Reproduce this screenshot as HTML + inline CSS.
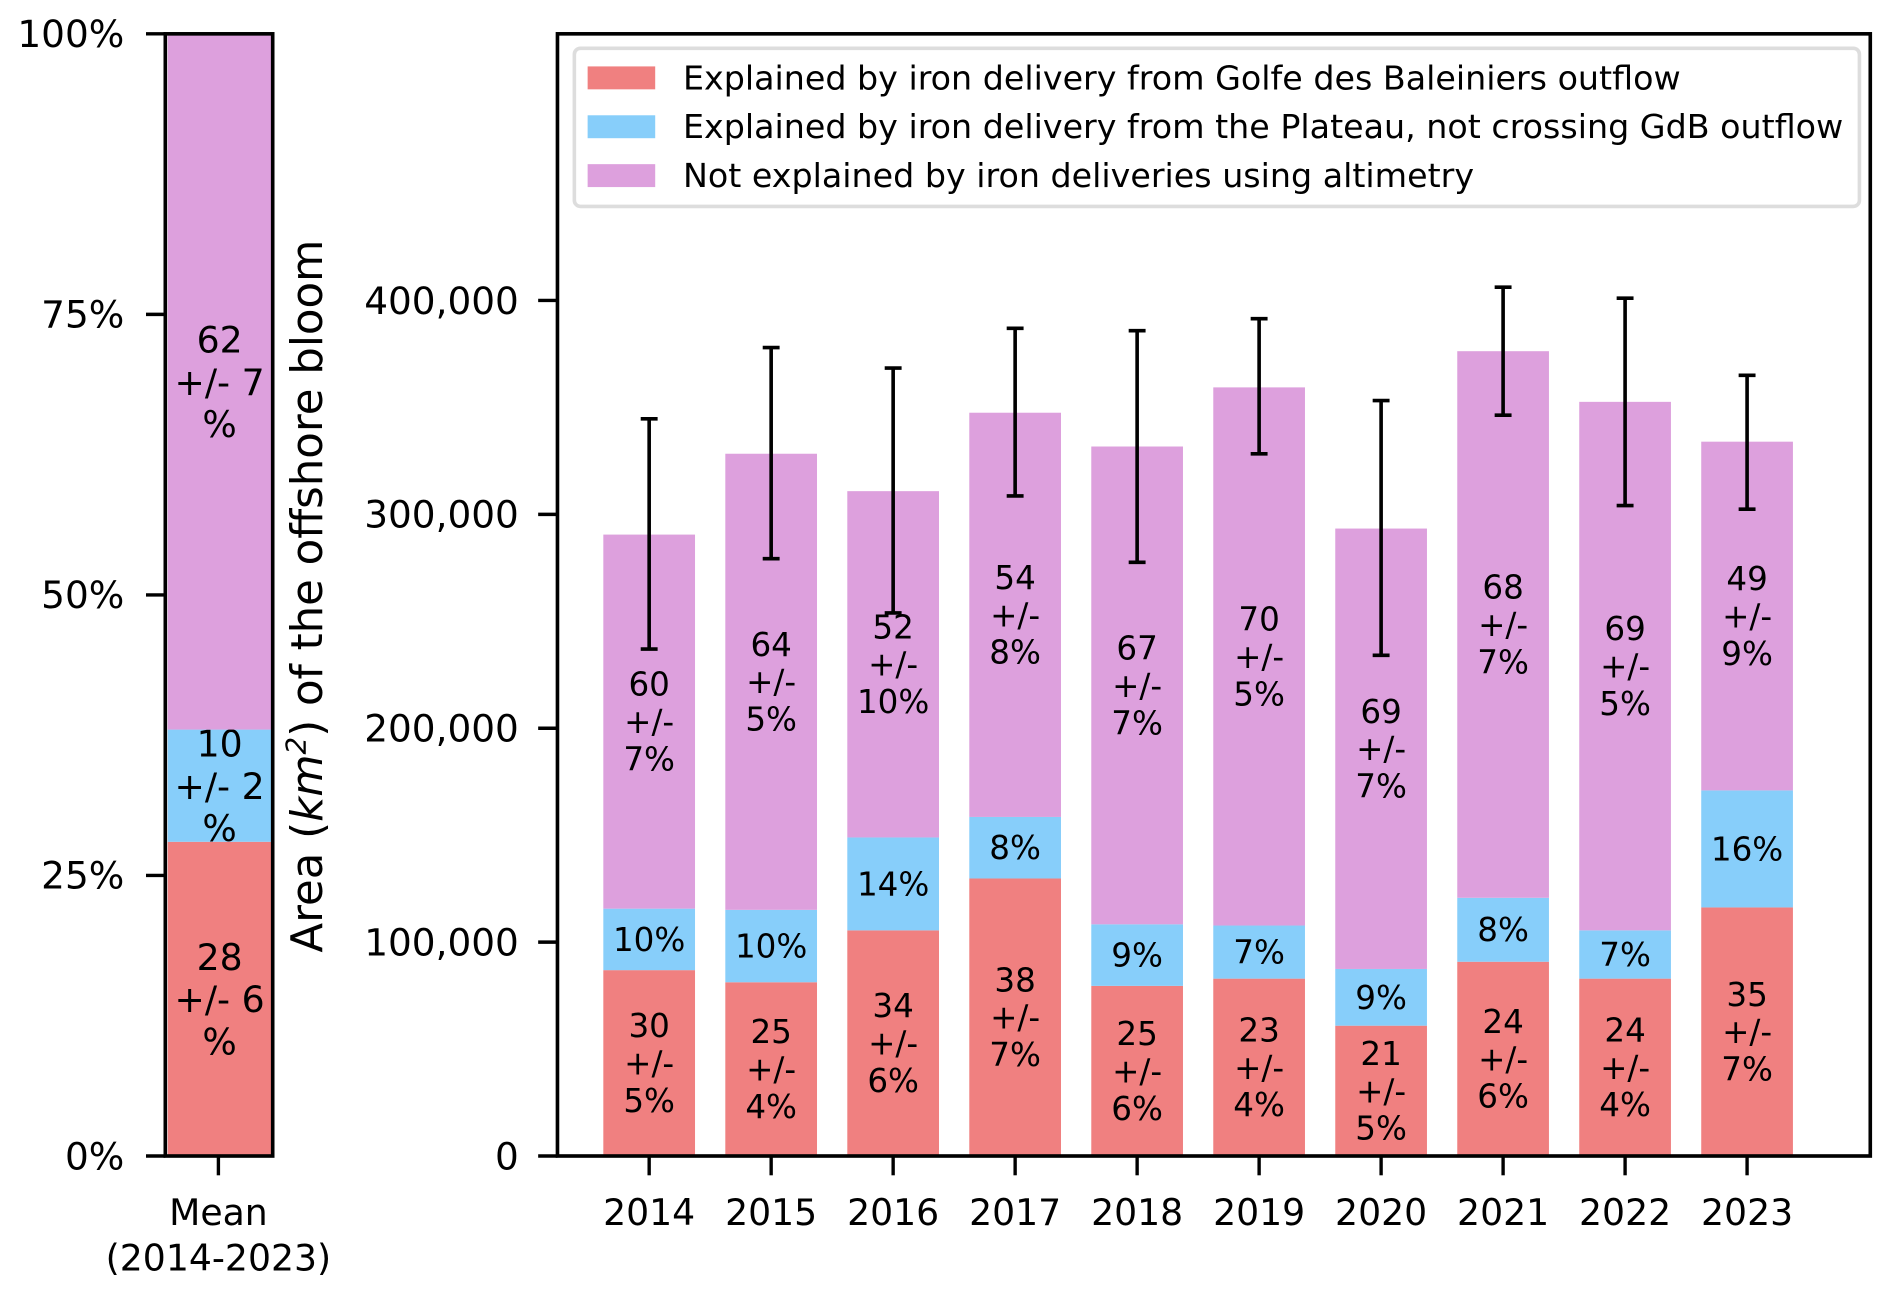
<!DOCTYPE html>
<html><head><meta charset="utf-8"><style>html,body{margin:0;padding:0;background:#fff}svg{display:block}text{font-family:"DejaVu Sans","Liberation Sans",sans-serif;fill:#000}</style></head>
<body>
<svg id="c" width="1892" height="1293" viewBox="0 0 1568 1071.5" xmlns="http://www.w3.org/2000/svg"></svg>
<script>
const years=["2014","2015","2016","2017","2018","2019","2020","2021","2022","2023"];
const redVals=[86900,81240,105500,129760,79550,82930,60930,90830,82930,116220];
const blueVals=[28750,33850,43440,28770,28770,24830,26520,29900,22570,54720];
const pinkVals=[174900,213260,161920,189000,223410,251620,205920,255570,247110,163050];
const errLow=[237000,279300,253900,308600,277600,328300,234100,346400,304100,302400];
const errHigh=[344700,378000,368400,387000,385900,391500,353200,406200,401100,365000];
const redPct=["30","25","34","38","25","23","21","24","24","35"];
const redErr=["5%","4%","6%","7%","6%","4%","5%","6%","4%","7%"];
const bluePct=["10%","10%","14%","8%","9%","7%","9%","8%","7%","16%"];
const pinkPct=["60","64","52","54","67","70","69","68","69","49"];
const pinkErr=["7%","5%","10%","8%","7%","5%","7%","7%","5%","9%"];
const yTicks=[0,100000,200000,300000,400000];
const yTickLabels=["0","100,000","200,000","300,000","400,000"];
const meanShares=[28,10,62];
const meanLabels=[["28","+/- 6","%"],["10","+/- 2","%"],["62","+/- 7","%"]];
const pctTicks=[0,25,50,75,100];
const pctTickLabels=["0%","25%","50%","75%","100%"];
const colors=["#F08080","#87CEFA","#DDA0DD"];

const svg=document.getElementById('c');const NS="http://www.w3.org/2000/svg";
function mk(t,a,txt){const e=document.createElementNS(NS,t);for(const k in a)e.setAttribute(k,a[k]);if(txt!==undefined)e.textContent=txt;svg.appendChild(e);return e;}
const T=28,B=958;
const y=v=>B-(v/400000)*(B-249);
const xC=i=>538+i*101.1;
const bw=76;
const yp=p=>B-(p/100)*(B-T);

let acc=0;
meanShares.forEach((s,k)=>{
  const r=mk('rect',{x:139,y:yp(acc+s),width:86,height:yp(acc)-yp(acc+s),fill:colors[k]});
  
  
  const mid=(yp(acc)+yp(acc+s))/2;
  meanLabels[k].forEach((l,j)=>{const t=mk('text',{x:182,y:mid+(j-1)*35+11,'text-anchor':'middle','font-size':30},l);
    });
  acc+=s;
});
mk('rect',{x:137,y:T,width:89,height:B-T,fill:'none',stroke:'#000','stroke-width':3,});
pctTicks.forEach((p,i)=>{
  mk('line',{x1:121,x2:137,y1:yp(p),y2:yp(p),stroke:'#000','stroke-width':2.8});
  const t=mk('text',{x:103,y:yp(p)+11,'text-anchor':'end','font-size':31},pctTickLabels[i]);
  
});
mk('line',{x1:181,x2:181,y1:B,y2:B+16,stroke:'#000','stroke-width':2.8});
mk('text',{x:181,y:1015,'text-anchor':'middle','font-size':30,},'Mean');
mk('text',{x:181,y:1053,'text-anchor':'middle','font-size':30,},'(2014-2023)');

const yt=mk('text',{x:0,y:0,'text-anchor':'middle','font-size':36,transform:'translate(267,494) rotate(-90)',});
yt.innerHTML='Area (<tspan font-style="italic">km</tspan><tspan font-size="23" dy="-14" font-style="italic">2</tspan><tspan dy="14">) of the offshore bloom</tspan>';

years.forEach((yr,i)=>{
  const x=xC(i)-bw/2;
  const r0=redVals[i],b0=r0+blueVals[i],p0=b0+pinkVals[i];
  const segs=[[0,r0],[r0,b0],[b0,p0]];
  segs.forEach((s,k)=>{
    const r=mk('rect',{x:x,y:y(s[1]),width:bw,height:y(s[0])-y(s[1]),fill:colors[k]});
    
    
  });
  const lab=(lines,mid)=>lines.forEach((l,j)=>{const t=mk('text',{x:xC(i),y:mid+(j-(lines.length-1)/2)*31+9.5,'text-anchor':'middle','font-size':27},l);
    });
  lab([redPct[i],'+/-',redErr[i]],(y(0)+y(r0))/2);
  lab([bluePct[i]],(y(r0)+y(b0))/2);
  lab([pinkPct[i],'+/-',pinkErr[i]],(y(b0)+y(p0))/2);
  const e=mk('line',{x1:xC(i),x2:xC(i),y1:y(errLow[i]),y2:y(errHigh[i]),stroke:'#000','stroke-width':3});
  
  mk('line',{x1:xC(i)-7,x2:xC(i)+7,y1:y(errLow[i]),y2:y(errLow[i]),stroke:'#000','stroke-width':3});
  mk('line',{x1:xC(i)-7,x2:xC(i)+7,y1:y(errHigh[i]),y2:y(errHigh[i]),stroke:'#000','stroke-width':3});
  mk('line',{x1:xC(i),x2:xC(i),y1:B,y2:B+16,stroke:'#000','stroke-width':2.8});
  const xl=mk('text',{x:xC(i),y:1015,'text-anchor':'middle','font-size':30},yr);
  
});
mk('rect',{x:462,y:T,width:1088,height:B-T,fill:'none',stroke:'#000','stroke-width':3,});
yTicks.forEach((v,i)=>{
  mk('line',{x1:446,x2:462,y1:y(v),y2:y(v),stroke:'#000','stroke-width':2.8});
  const t=mk('text',{x:430,y:y(v)+11,'text-anchor':'end','font-size':31},yTickLabels[i]);
  
});
mk('rect',{x:476,y:40,width:1065,height:131,rx:5,fill:'#fff','fill-opacity':0.85,stroke:'#ddd','stroke-width':3,});
const legTexts=["Explained by iron delivery from Golfe des Baleiniers outflow","Explained by iron delivery from the Plateau, not crossing GdB outflow","Not explained by iron deliveries using altimetry"];
legTexts.forEach((t,k)=>{
  const yy=64+k*40.5;
  mk('rect',{x:487,y:yy-9,width:56,height:19,fill:colors[k],});
  mk('text',{x:566,y:yy+10,'font-size':27.6,},t);
});
</script>
</body></html>
